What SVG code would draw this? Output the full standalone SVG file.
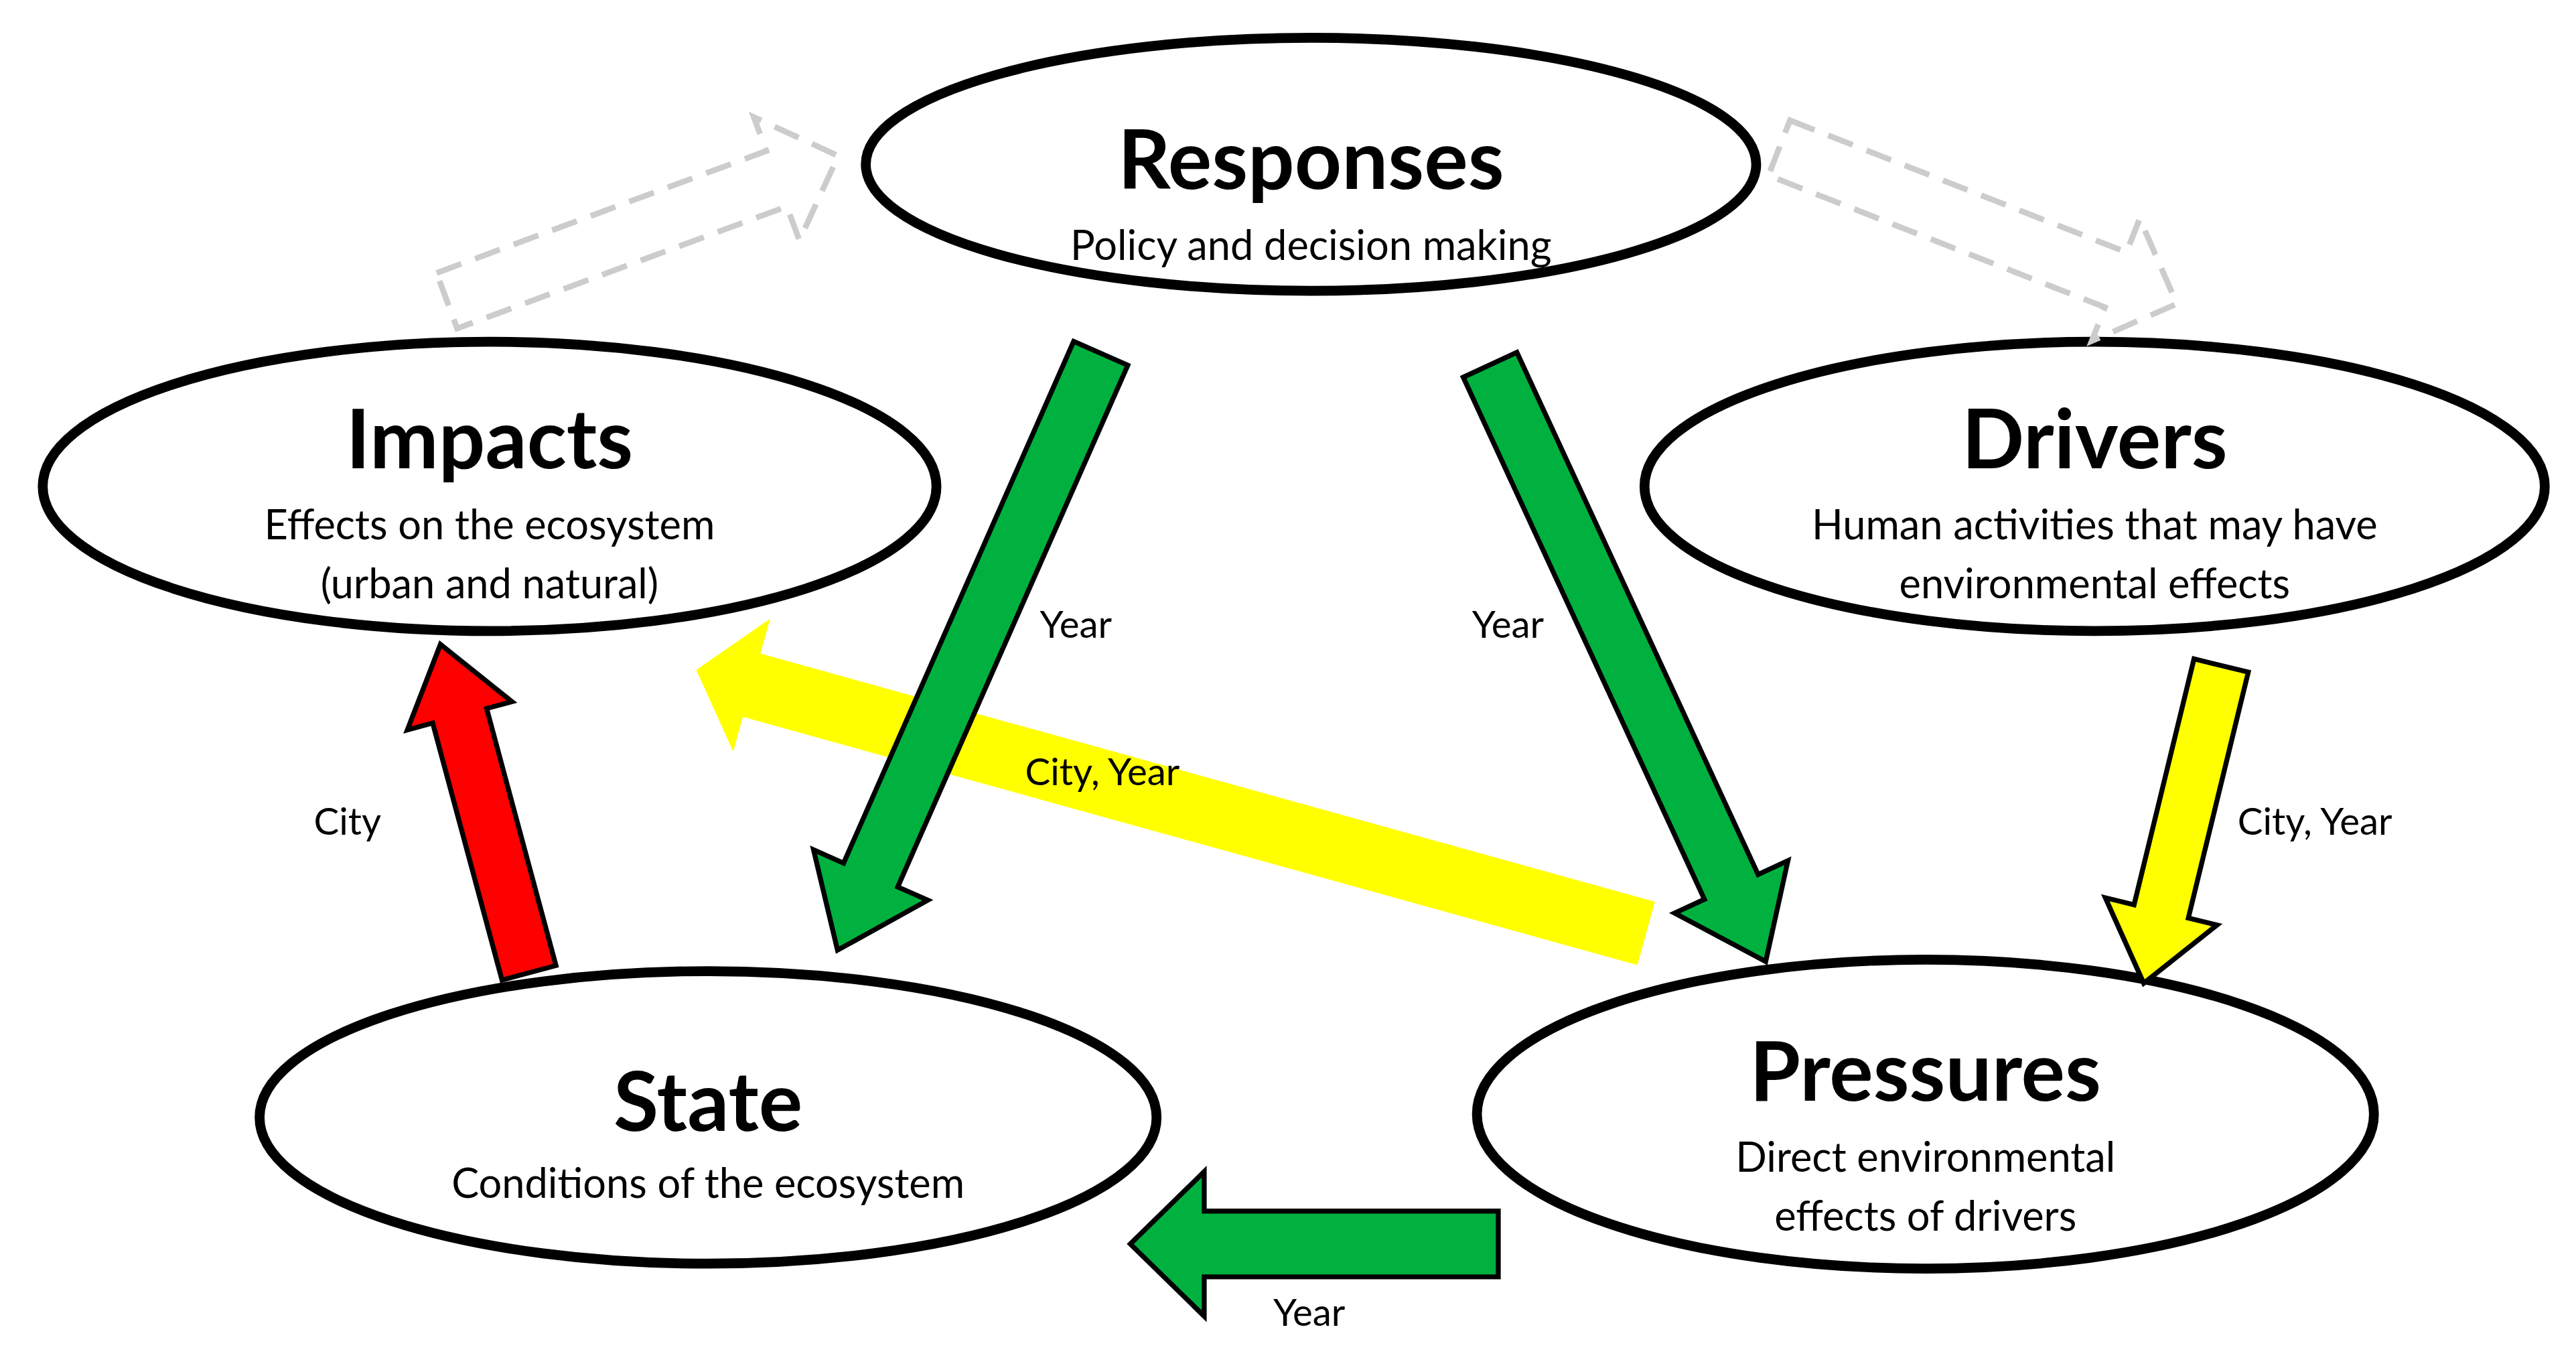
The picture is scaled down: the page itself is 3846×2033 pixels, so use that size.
<svg xmlns="http://www.w3.org/2000/svg" width="3846" height="2033" viewBox="0 0 3846 2033">
<style>
.node{fill:#fff;stroke:#000;stroke-width:6}
.t{font-family:Lato,"Open Sans",sans-serif;font-weight:bold;font-size:50px;text-anchor:middle}
.s{font-family:Lato,"Open Sans",sans-serif;font-size:25px;text-anchor:middle}
.l{font-family:Lato,"Open Sans",sans-serif;font-size:23px}
.arr{stroke:#000;stroke-width:3;stroke-linejoin:miter}
.g{fill:#00b140}.y{fill:#ffff00}.r{fill:#ff0000}
.d{fill:none;stroke:#cccccc;stroke-width:3.5;stroke-dasharray:16 9}
</style>
<rect width="3846" height="2033" fill="#fff"/>
<g transform="scale(2.4528)">
<g id="responses"><ellipse class="node" cx="798" cy="100" rx="271" ry="77"/><text class="t" x="798" y="115">Responses</text><text class="s" x="798" y="158">Policy and decision making</text></g>
<g id="impacts"><ellipse class="node" cx="298" cy="296" rx="272" ry="88"/><text class="t" x="298" y="285">Impacts</text><text class="s" x="298" y="328">Effects on the ecosystem</text><text class="s" x="298" y="364">(urban and natural)</text></g>
<g id="drivers"><ellipse class="node" cx="1275" cy="296" rx="274" ry="88"/><text class="t" x="1275" y="285">Drivers</text><text class="s" x="1275" y="328">Human activities that may have</text><text class="s" x="1275" y="364">environmental effects</text></g>
<g id="state"><ellipse class="node" cx="431" cy="680" rx="273" ry="89"/><text class="t" x="431" y="688">State</text><text class="s" x="431" y="729">Conditions of the ecosystem</text></g>
<g id="pressures"><ellipse class="node" cx="1172" cy="678" rx="273" ry="94"/><text class="t" x="1172" y="670">Pressures</text><text class="s" x="1172" y="713">Direct environmental</text><text class="s" x="1172" y="749">effects of drivers</text></g>
<g id="connectors">
<polygon class="d" transform="translate(272,183) rotate(-20.3)" points="0,-18 214,-18 214,-40 254,0 214,40 214,18 0,18"/>
<polygon class="d" transform="translate(1083,90) rotate(21.4)" points="0,-18 220,-18 220,-40 260,0 220,40 220,18 0,18"/>
<polygon class="y" transform="translate(1002,568) rotate(195.5)" points="0,-20 565,-20 565,-42 600,0 565,42 565,20 0,20"/>
<polygon class="arr g" transform="translate(670,215) rotate(113.8)" points="0,-18 347,-18 347,-38 397,0 347,38 347,18 0,18"/>
<polygon class="arr g" transform="translate(907,222) rotate(65.2)" points="0,-18 350,-18 350,-38 400,0 350,38 350,18 0,18"/>
<polygon class="arr r" transform="translate(322,592) rotate(-105.1)" points="0,-17 162,-17 162,-33 207,0 162,33 162,17 0,17"/>
<polygon class="arr y" transform="translate(1352,405) rotate(103.7)" points="0,-17 154,-17 154,-35 199,0 154,35 154,17 0,17"/>
<polygon class="arr g" transform="translate(912,757) rotate(180)" points="0,-20 179,-20 179,-44 224,0 179,44 179,20 0,20"/>
<text class="l" x="633" y="388">Year</text>
<text class="l" x="896" y="388">Year</text>
<text class="l" x="624" y="478">City, Year</text>
<text class="l" x="191" y="508">City</text>
<text class="l" x="1362" y="508">City, Year</text>
<text class="l" x="775" y="807">Year</text>
</g>
</g>
</svg>
